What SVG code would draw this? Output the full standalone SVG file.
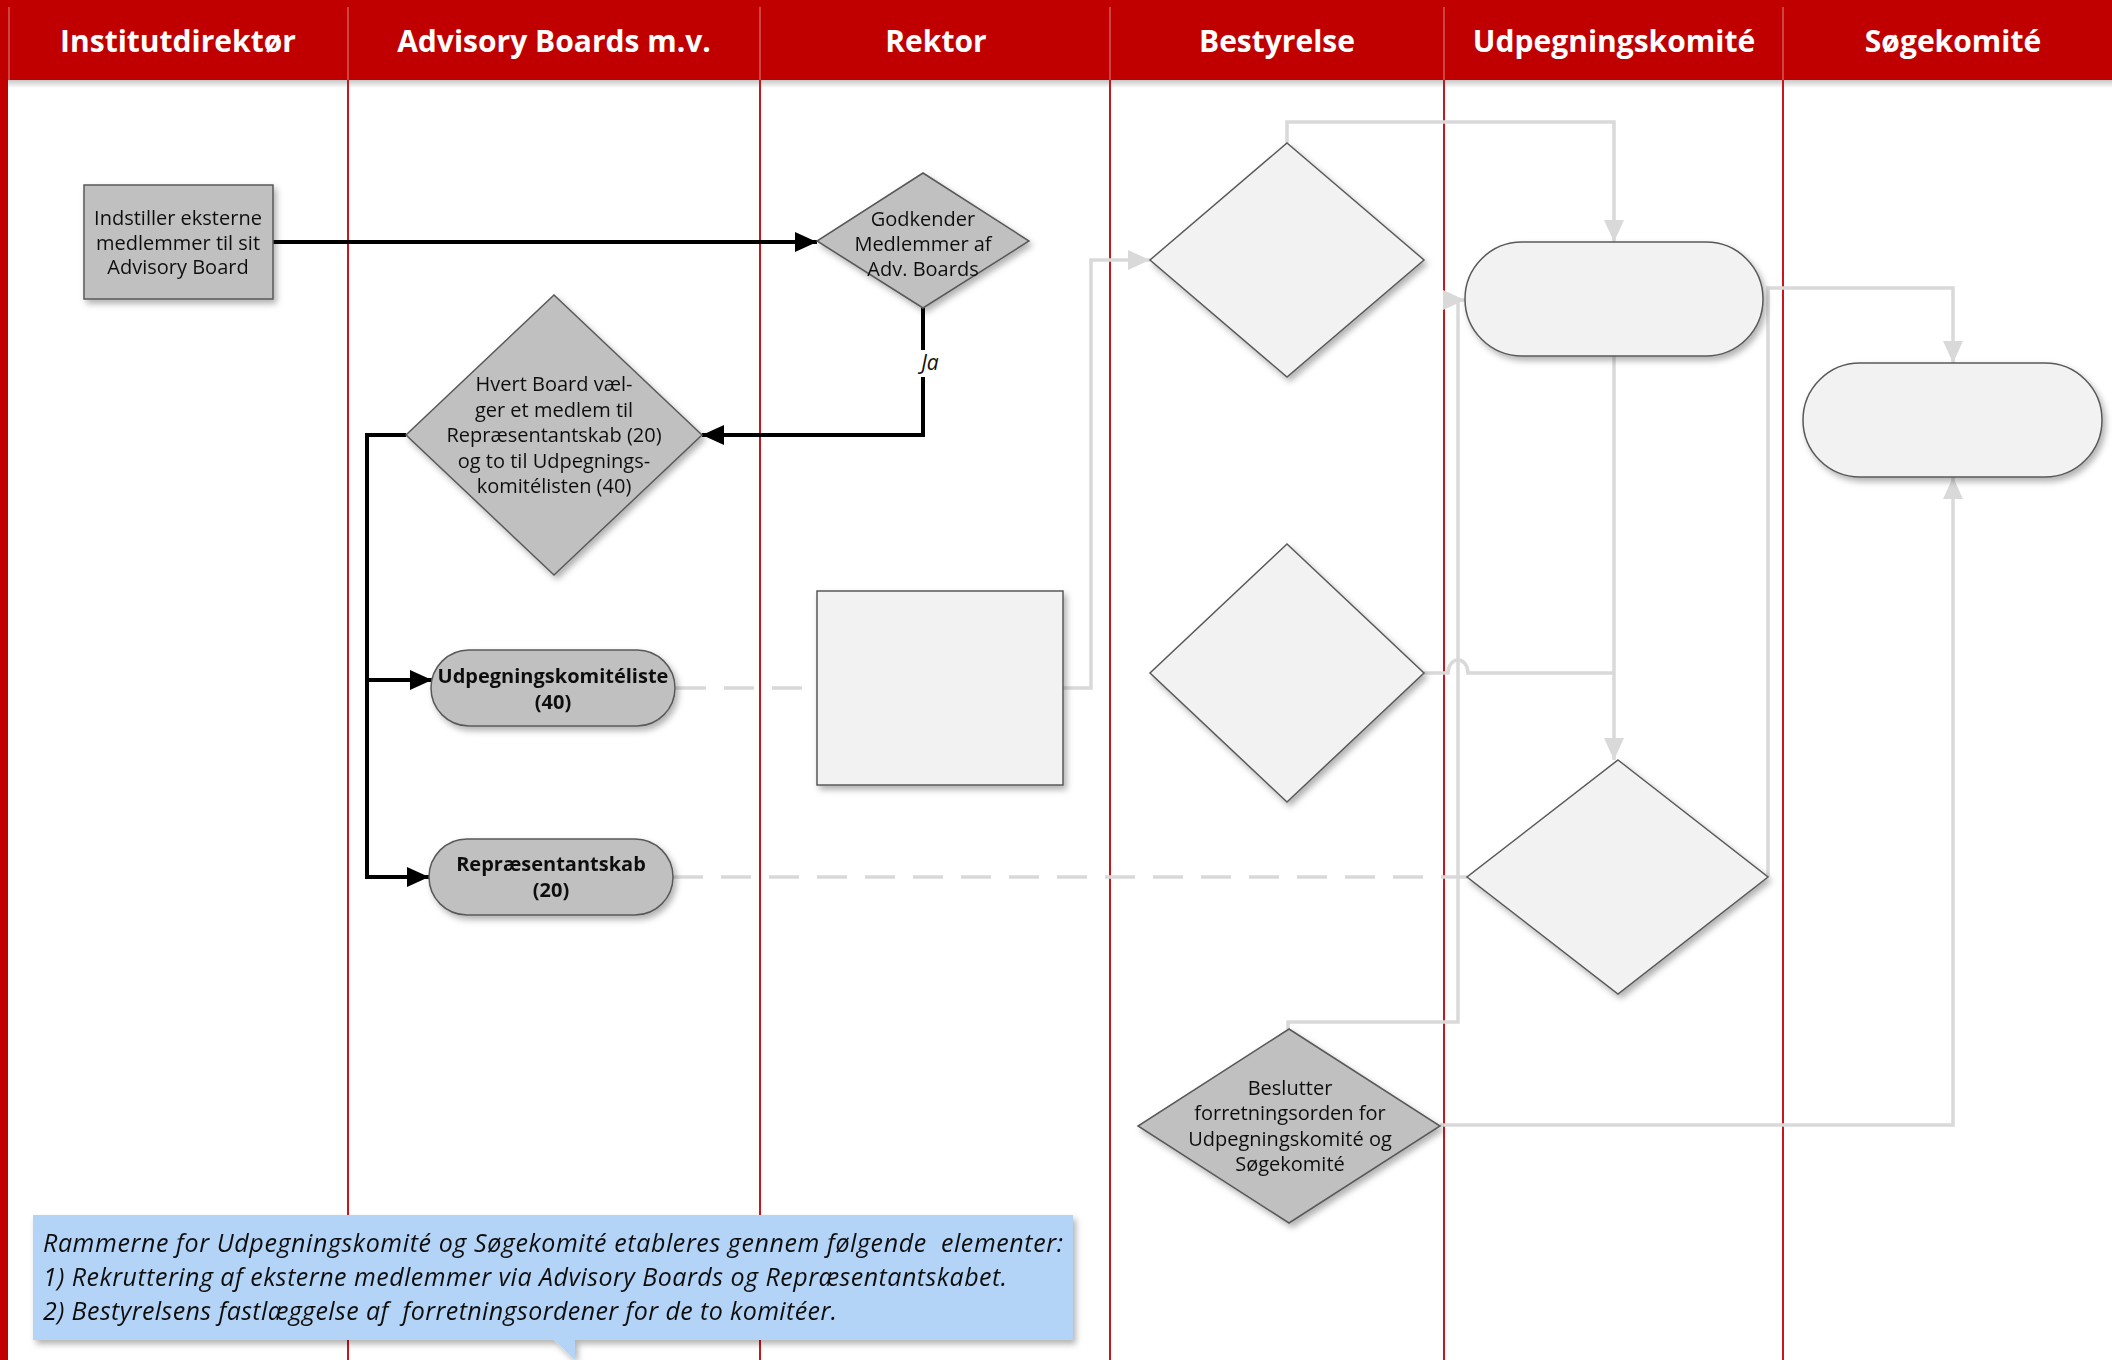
<svg xmlns="http://www.w3.org/2000/svg" width="2112" height="1360" viewBox="0 0 2112 1360">
<defs>
<style>
.hdr{font-family:"Open Sans","Noto Sans","DejaVu Sans",sans-serif;font-weight:700;font-size:30px;fill:#ffffff;text-anchor:middle}
.lbl{font-family:"Open Sans","Noto Sans","DejaVu Sans",sans-serif;font-size:20px;fill:#111111;text-anchor:middle}
.lblb{font-family:"Open Sans","Noto Sans","DejaVu Sans",sans-serif;font-size:20px;font-weight:700;fill:#111111;text-anchor:middle}
.ja{font-family:"Open Sans","Noto Sans","DejaVu Sans",sans-serif;font-size:21px;font-style:italic;fill:#111111;text-anchor:middle}
.note{font-family:"Open Sans","Noto Sans","DejaVu Sans",sans-serif;font-size:25px;font-style:italic;fill:#111111}
.dark{fill:#c0c0c0;stroke:#595959;stroke-width:1.5}
.light{fill:#f2f2f2;stroke:#595959;stroke-width:1.5}
.blk{fill:none;stroke:#000000;stroke-width:4;marker-end:url(#ab)}
.gry{fill:none;stroke:#d9d9d9;stroke-width:3.5}
.arr{marker-end:url(#ag)}
.dash{stroke-dasharray:30 18}
.lane{stroke:#c8161d;stroke-width:2}
.hdiv{stroke:#d65a5a;stroke-width:1.5}
</style>
<filter id="sh" x="-15%" y="-15%" width="135%" height="135%">
<feDropShadow dx="3" dy="4" stdDeviation="3" flood-color="#000000" flood-opacity="0.3"/>
</filter>
<marker id="ab" markerUnits="userSpaceOnUse" markerWidth="22" markerHeight="20" refX="22" refY="10" orient="auto">
<path d="M0,0 L22,10 L0,20 Z" fill="#000000"/>
</marker>
<marker id="ag" markerUnits="userSpaceOnUse" markerWidth="22" markerHeight="20" refX="22" refY="10" orient="auto">
<path d="M0,0 L22,10 L0,20 Z" fill="#d9d9d9"/>
</marker>
<linearGradient id="hs" x1="0" y1="0" x2="0" y2="1">
<stop offset="0" stop-color="#000000" stop-opacity="0.22"/>
<stop offset="1" stop-color="#000000" stop-opacity="0"/>
</linearGradient>
</defs>

<rect x="0" y="0" width="2112" height="1360" fill="#ffffff"/>

<g id="lanes">
<rect x="0" y="0" width="2112" height="80" fill="#c00000"/>
<rect x="0" y="80" width="2112" height="8" fill="url(#hs)"/>
<rect x="0" y="0" width="8" height="1360" fill="#c00000"/>
<line class="hdiv" x1="9" y1="7" x2="9" y2="80"/>
<line class="hdiv" x1="348" y1="7" x2="348" y2="80"/>
<line class="hdiv" x1="760" y1="7" x2="760" y2="80"/>
<line class="hdiv" x1="1110" y1="7" x2="1110" y2="80"/>
<line class="hdiv" x1="1444" y1="7" x2="1444" y2="80"/>
<line class="hdiv" x1="1783" y1="7" x2="1783" y2="80"/>
<line class="lane" x1="348" y1="80" x2="348" y2="1360"/>
<line class="lane" x1="760" y1="80" x2="760" y2="1360"/>
<line class="lane" x1="1110" y1="80" x2="1110" y2="1360"/>
<line class="lane" x1="1444" y1="80" x2="1444" y2="1360"/>
<line class="lane" x1="1783" y1="80" x2="1783" y2="1360"/>
<text class="hdr" x="178" y="52">Institutdirektør</text>
<text class="hdr" x="554" y="52">Advisory Boards m.v.</text>
<text class="hdr" x="936" y="52">Rektor</text>
<text class="hdr" x="1277" y="52">Bestyrelse</text>
<text class="hdr" x="1614" y="52">Udpegningskomité</text>
<text class="hdr" x="1953" y="52">Søgekomité</text>
</g>

<g id="connectors">
<path class="gry dash" d="M676,688 H817"/>
<path class="gry dash" d="M673,877 H1467"/>
<path class="gry arr" d="M1063,688 H1091 V260 H1150"/>
<path class="gry arr" d="M1287,143 V122 H1614 V242"/>
<path class="gry arr" d="M1614,356 V760"/>
<path class="gry" d="M1424,673 H1448 A10,13 0 0 1 1468,673 H1614"/>
<path class="gry arr" d="M1288,1029 V1022 H1458 V300 H1465"/>
<path class="gry arr" d="M1768,877 V288 H1953 V363"/>
<path class="gry arr" d="M1440,1125 H1953 V477"/>
<path class="blk" d="M273,242 H817"/>
<path class="blk" d="M923,308 V435 H702"/>
<path class="blk" d="M406,435 H367 V877 H429"/>
<path class="blk" d="M367,680 H432"/>
<rect x="914" y="350" width="32" height="27" fill="#ffffff"/>
<text class="ja" x="930" y="370">Ja</text>
</g>

<g id="n-indstiller" filter="url(#sh)">
<rect class="dark" x="84" y="185" width="189" height="114"/>
<text class="lbl" x="178" y="225">Indstiller eksterne</text>
<text class="lbl" x="178" y="249.5">medlemmer til sit</text>
<text class="lbl" x="178" y="274">Advisory Board</text>
</g>

<g id="n-godkender" filter="url(#sh)">
<polygon class="dark" points="923,173 1029,241 923,308 817,241"/>
<text class="lbl" x="923" y="226">Godkender</text>
<text class="lbl" x="923" y="251">Medlemmer af</text>
<text class="lbl" x="923" y="276">Adv. Boards</text>
</g>

<g id="n-hvert" filter="url(#sh)">
<polygon class="dark" points="554,295 702,435 554,575 406,435"/>
<text class="lbl" x="554" y="391">Hvert Board væl-</text>
<text class="lbl" x="554" y="416.5">ger et medlem til</text>
<text class="lbl" x="554" y="442">Repræsentantskab (20)</text>
<text class="lbl" x="554" y="467.5">og to til Udpegnings-</text>
<text class="lbl" x="554" y="493">komitélisten (40)</text>
</g>

<g id="n-udpegliste" filter="url(#sh)">
<rect class="dark" x="431" y="650" width="244" height="76" rx="38" ry="38"/>
<text class="lblb" x="553" y="683">Udpegningskomitéliste</text>
<text class="lblb" x="553" y="709">(40)</text>
</g>

<g id="n-repraes" filter="url(#sh)">
<rect class="dark" x="429" y="839" width="244" height="76" rx="38" ry="38"/>
<text class="lblb" x="551" y="871">Repræsentantskab</text>
<text class="lblb" x="551" y="897">(20)</text>
</g>

<g id="n-rektor-box" filter="url(#sh)">
<rect class="light" x="817" y="591" width="246" height="194"/>
</g>

<g id="n-best-1" filter="url(#sh)">
<polygon class="light" points="1287,143 1424,260 1287,377 1150,260"/>
</g>

<g id="n-best-2" filter="url(#sh)">
<polygon class="light" points="1287,544 1424,673 1287,802 1150,673"/>
</g>

<g id="n-beslutter" filter="url(#sh)">
<polygon class="dark" points="1289,1029 1440,1126 1289,1223 1138,1126"/>
<text class="lbl" x="1290" y="1094.5">Beslutter</text>
<text class="lbl" x="1290" y="1120">forretningsorden for</text>
<text class="lbl" x="1290" y="1145.5">Udpegningskomité og</text>
<text class="lbl" x="1290" y="1171">Søgekomité</text>
</g>

<g id="n-udpeg-term" filter="url(#sh)">
<rect class="light" x="1465" y="242" width="298" height="114" rx="57" ry="57"/>
</g>

<g id="n-udpeg-dec" filter="url(#sh)">
<polygon class="light" points="1618,760 1768,877 1618,994 1467,877"/>
</g>

<g id="n-soege-term" filter="url(#sh)">
<rect class="light" x="1803" y="363" width="299" height="114" rx="57" ry="57"/>
</g>

<g id="n-note" filter="url(#sh)">
<path d="M33,1215 H1073 V1340 H575 V1360 L554,1340 H33 Z" fill="#b3d3f7"/>
<text class="note" x="43" y="1252" textLength="1020" xml:space="preserve">Rammerne for Udpegningskomité og Søgekomité etableres gennem følgende  elementer:</text>
<text class="note" x="43" y="1286" textLength="964" xml:space="preserve">1) Rekruttering af eksterne medlemmer via Advisory Boards og Repræsentantskabet.</text>
<text class="note" x="43" y="1320" textLength="794" xml:space="preserve">2) Bestyrelsens fastlæggelse af  forretningsordener for de to komitéer.</text>
</g>
</svg>
